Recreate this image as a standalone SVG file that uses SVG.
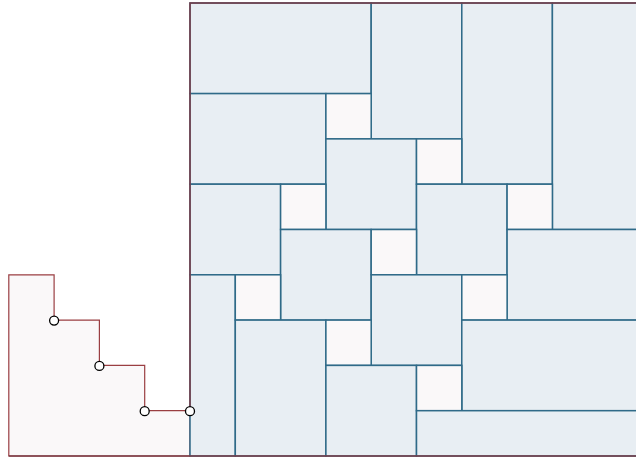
<svg xmlns="http://www.w3.org/2000/svg" width="636" height="460" viewBox="0 0 636 460">
<style>
.b{fill:#e8eef3;stroke:#2f6a88;stroke-width:1.5}
.s{fill:#faf8f9;stroke:#2f6a88;stroke-width:1.5}
.o{fill:none;stroke:#7a3a44;stroke-width:1.5}
.st{fill:#faf8f9;stroke:#9a3e42;stroke-width:1.2}
.p{fill:#ffffff;stroke:#000000;stroke-width:1.3}
</style>
<g id="staircase">
<path class="st" d="M8.8,456 V274.8 H54.1 V320.1 H99.4 V365.4 H144.7 V410.7 H190 V456 Z"/>
</g>
<g id="tiles">
<rect id="t1" class="b" x="190" y="3" width="181.2" height="90.6"/>
<rect id="t2" class="b" x="371.2" y="3" width="90.6" height="135.9"/>
<rect id="t3" class="b" x="461.8" y="3" width="90.6" height="181.2"/>
<rect id="t4" class="b" x="552.4" y="3" width="90.6" height="226.5"/>
<rect id="t5" class="b" x="190" y="93.6" width="135.9" height="90.6"/>
<rect id="t6" class="s" x="325.9" y="93.6" width="45.3" height="45.3"/>
<rect id="t7" class="b" x="325.9" y="138.9" width="90.6" height="90.6"/>
<rect id="t8" class="s" x="416.5" y="138.9" width="45.3" height="45.3"/>
<rect id="t9" class="b" x="190" y="184.2" width="90.6" height="90.6"/>
<rect id="t10" class="s" x="280.6" y="184.2" width="45.3" height="45.3"/>
<rect id="t11" class="b" x="416.5" y="184.2" width="90.6" height="90.6"/>
<rect id="t12" class="s" x="507.1" y="184.2" width="45.3" height="45.3"/>
<rect id="t13" class="b" x="280.6" y="229.5" width="90.6" height="90.6"/>
<rect id="t14" class="s" x="371.2" y="229.5" width="45.3" height="45.3"/>
<rect id="t15" class="b" x="507.1" y="229.5" width="135.9" height="90.6"/>
<rect id="t16" class="b" x="190" y="274.8" width="45.3" height="181.2"/>
<rect id="t17" class="s" x="235.3" y="274.8" width="45.3" height="45.3"/>
<rect id="t18" class="b" x="371.2" y="274.8" width="90.6" height="90.6"/>
<rect id="t19" class="s" x="461.8" y="274.8" width="45.3" height="45.3"/>
<rect id="t20" class="b" x="235.3" y="320.1" width="90.6" height="135.9"/>
<rect id="t21" class="s" x="325.9" y="320.1" width="45.3" height="45.3"/>
<rect id="t22" class="b" x="461.8" y="320.1" width="181.2" height="90.6"/>
<rect id="t23" class="b" x="325.9" y="365.4" width="90.6" height="90.6"/>
<rect id="t24" class="s" x="416.5" y="365.4" width="45.3" height="45.3"/>
<rect id="t25" class="b" x="416.5" y="410.7" width="226.5" height="45.3"/>
</g>
<g id="outline">
<path class="o" d="M190,410.7 V3 H643"/>
<path class="o" d="M8.8,456 H643"/>
</g>
<g id="points">
<circle class="p" cx="54.1" cy="320.6" r="4.5"/>
<circle class="p" cx="99.4" cy="365.9" r="4.5"/>
<circle class="p" cx="144.7" cy="411.2" r="4.5"/>
<circle class="p" cx="190" cy="411.2" r="4.5"/>
</g>
</svg>
